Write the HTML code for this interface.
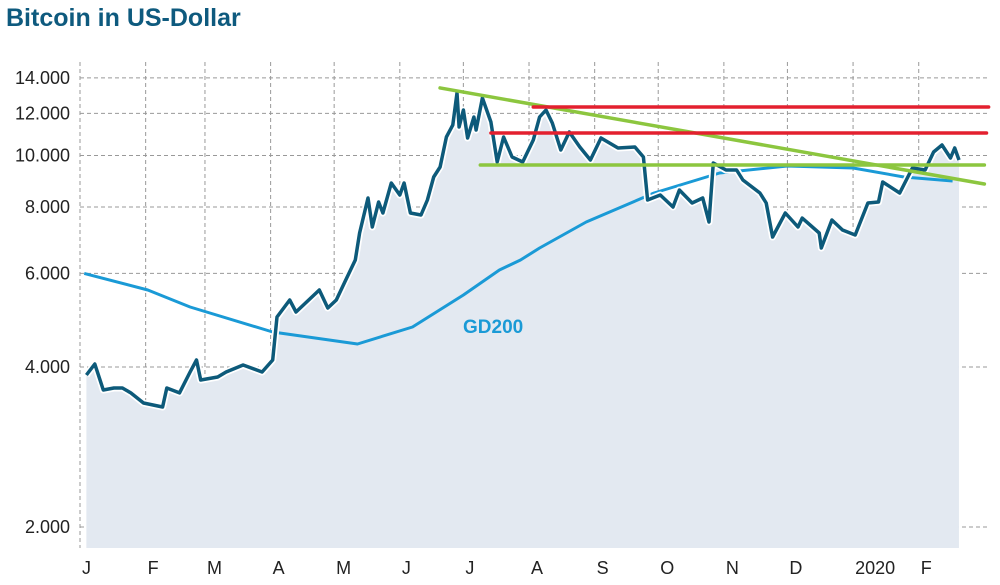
<!DOCTYPE html>
<html><head><meta charset="utf-8"><style>
body{margin:0;background:#fff;width:1000px;height:580px;overflow:hidden}
svg text{font-family:"Liberation Sans",sans-serif}
</style></head><body>
<svg id="c" width="1000" height="580">
<text x="6" y="26" font-size="25" font-weight="bold" fill="#0e5a7e">Bitcoin in US-Dollar</text>
<g id="grid"></g><g id="marks"></g><g id="labels"></g>
</svg>
<script>
const yTicks=[2000,4000,6000,8000,10000,12000,14000];
const yTickLabels=["2.000","4.000","6.000","8.000","10.000","12.000","14.000"];
const monthDays=[0,31,59,90,120,151,181,212,243,273,304,334,365,396];
const monthLabels=["J","F","M","A","M","J","J","A","S","O","N","D","2020","F"];
const priceDays=[3,7,11,16,20,24,30,39,41,47,52,55,57,65,69,77,86,91,93,99,102,113,117,121,125,130,132,136,138,141,143,147,151,153,156,161,164,167,170,173,176,178,179,181,183,186,187,190,194,197,200,204,209,214,217,220,223,227,231,236,241,246,254,262,266,268,274,280,283,289,294,297,299,305,310,313,321,324,327,333,339,341,349,350,355,360,366,372,377,379,387,393,399,403,407,411,413,415];
const priceValues=[3864,4053,3620,3652,3652,3575,3422,3364,3652,3575,3915,4124,3781,3830,3915,4035,3915,4124,4968,5347,5077,5584,5166,5347,5780,6360,7148,8317,7336,8175,7795,8876,8426,8876,7795,7727,8248,9110,9514,10836,11412,13108,11314,12178,10788,11815,11168,12828,11561,9722,10836,9934,9722,10696,11815,12178,11512,10242,11072,10374,9808,10788,10330,10374,9934,8248,8426,8000,8610,8140,8317,7496,9680,9390,9390,8994,8500,8140,7025,7795,7336,7626,7148,6698,7562,7240,7086,8140,8175,8914,8500,9474,9390,10154,10466,9890,10330,9808];
const gdDays=[2,32,52,91,131,157,181,198,208,217,239,271,302,334,365,389,412];
const gdValues=[6000,5584,5187,4655,4420,4757,5464,6089,6360,6698,7496,8500,9270,9554,9474,9110,8954];
const trendDays=[[170,427],[189,427],[214,429],[194,428]];
const trendValues=[[13400,8838],[9596,9596],[12338,12338],[11022,11022]];
const trendColors=["#8cc63f","#8cc63f","#e3202f","#e3202f"];
const L=80,R=988,B=548;
const x=d=>L+d*2.118;
const y=v=>527-160*Math.log2(v/2000);
const NS="http://www.w3.org/2000/svg";
function mk(t,a,p){const e=document.createElementNS(NS,t);for(const k in a)e.setAttribute(k,a[k]);p.appendChild(e);return e;}
const G=document.getElementById('grid'),M=document.getElementById('marks'),Lb=document.getElementById('labels');
yTicks.forEach((v,i)=>{
 const l=mk('line',{x1:L,x2:R,y1:y(v),y2:y(v),stroke:'#999','stroke-width':1,'stroke-dasharray':'4,3'},G);
 
 
 const t=mk('text',{x:70,y:y(v)+6,'font-size':18,'text-anchor':'end',fill:'#222'},Lb);
 t.textContent=yTickLabels[i];
 
 
});
monthDays.forEach((d,i)=>{
 const l=mk('line',{x1:x(d),x2:x(d),y1:62,y2:B,stroke:'#999','stroke-width':1,'stroke-dasharray':'4,3'},G);
 
 
 const t=mk('text',{x:x(d)+2,y:574,'font-size':18,fill:'#222'},Lb);
 t.textContent=monthLabels[i];
 
 
});
const pts=priceDays.map((d,i)=>x(d).toFixed(1)+','+y(priceValues[i]).toFixed(1));
const area=mk('polygon',{points:x(priceDays[0])+','+B+' '+pts.join(' ')+' '+x(priceDays[priceDays.length-1])+','+B,fill:'#e3e9f1'},M);


const gp=gdDays.map((d,i)=>x(d).toFixed(1)+','+y(gdValues[i]).toFixed(1)).join(' ');
const gl=mk('polyline',{points:gp,fill:'none',stroke:'#1a9ad6','stroke-width':3,'stroke-linejoin':'round'},M);


const pw=mk('polyline',{points:pts.join(' '),fill:'none',stroke:'#fff','stroke-width':7,'stroke-linejoin':'round'},M);


const pl=mk('polyline',{points:pts.join(' '),fill:'none',stroke:'#0d5a7a','stroke-width':3.5,'stroke-linejoin':'round'},M);


trendDays.forEach((d,i)=>{
 const l=mk('line',{x1:x(d[0]),x2:x(d[1]),y1:y(trendValues[i][0]),y2:y(trendValues[i][1]),stroke:trendColors[i],'stroke-width':3.5,'stroke-linecap':'round'},M);
 
 
});
const gt=mk('text',{x:463,y:333,'font-size':19,'font-weight':'bold',fill:'#1a9ad6'},Lb);
gt.textContent='GD200';


</script>
</body></html>
